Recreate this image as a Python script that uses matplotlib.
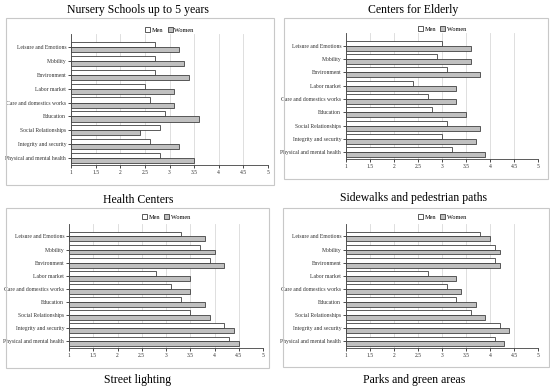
import numpy as np
import matplotlib
matplotlib.use('Agg')
import matplotlib.pyplot as plt
from matplotlib.patches import Rectangle

categories = ["Leisure and Emotions", "Mobility", "Environment", "Labor market",
              "Care and domestics works", "Education", "Social Relationships",
              "Integrity and security", "Physical and mental health"]

nursery_men = [2.7, 2.7, 2.7, 2.5, 2.6, 2.9, 2.8, 2.6, 2.8]
nursery_women = [3.2, 3.3, 3.4, 3.1, 3.1, 3.6, 2.4, 3.2, 3.5]
elderly_men = [3.0, 2.9, 3.1, 2.4, 2.7, 2.8, 3.1, 3.0, 3.2]
elderly_women = [3.6, 3.6, 3.8, 3.3, 3.3, 3.5, 3.8, 3.7, 3.9]
health_men = [3.3, 3.7, 3.9, 2.8, 3.1, 3.3, 3.5, 4.2, 4.3]
health_women = [3.8, 4.0, 4.2, 3.5, 3.5, 3.8, 3.9, 4.4, 4.5]
sidewalk_men = [3.8, 4.1, 4.1, 2.7, 3.1, 3.3, 3.6, 4.2, 4.1]
sidewalk_women = [4.0, 4.2, 4.2, 3.3, 3.4, 3.7, 3.9, 4.4, 4.3]

titles = ["Nursery Schools up to 5 years", "Centers for Elderly",
          "Health Centers", "Sidewalks and pedestrian paths",
          "Street lighting", "Parks and green areas"]

W, H = 550, 391
plt.rcParams['font.family'] = 'Liberation Serif'
fig = plt.figure(figsize=(W / 100, H / 100), dpi=100)


def frac(x0, x1, ytop, ybot):
    return [x0 / W, 1 - ybot / H, (x1 - x0) / W, (ybot - ytop) / H]


# chart area boxes (pixels)
boxes = [(6, 18, 274, 185), (284, 18, 548, 179), (6, 208, 269, 368), (283, 208, 549, 367)]
for x0, y0, x1, y1 in boxes:
    fig.patches.append(Rectangle((x0 / W, 1 - y1 / H), (x1 - x0) / W, (y1 - y0) / H,
                                 transform=fig.transFigure, fill=False,
                                 edgecolor='#c8c8c8', linewidth=0.8))

panels = [
    (nursery_men, nursery_women, frac(71, 268, 34, 165), 30),
    (elderly_men, elderly_women, frac(346, 538, 33, 159), 29),
    (health_men, health_women, frac(69, 263, 224, 348), 217),
    (sidewalk_men, sidewalk_women, frac(346, 538, 224, 348), 217),
]

y = np.arange(len(categories))
h = 0.37
for men, women, rect, leg_y in panels:
    ax = fig.add_axes(rect)
    ax.barh(y - h / 2, np.array(men) - 1, left=1, height=h, color='white',
            edgecolor='#404040', linewidth=0.6, label='Men', zorder=3)
    ax.barh(y + h / 2, np.array(women) - 1, left=1, height=h, color='#c0c0c0',
            edgecolor='#404040', linewidth=0.6, label='Women', zorder=3)
    ax.set_xlim(1, 5)
    ax.set_ylim(8.5, -0.95)
    ax.set_xticks(np.arange(1, 5.01, 0.5))
    ax.set_xticklabels(['1', '1.5', '2', '2.5', '3', '3.5', '4', '4.5', '5'])
    ax.set_yticks(y)
    ax.set_yticklabels(categories)
    ax.tick_params(labelsize=4.1, length=2, width=0.5, pad=1.5, labelcolor='#333333')
    ax.grid(axis='x', color='#d9d9d9', linewidth=0.6, zorder=0)
    for s in ['top', 'right']:
        ax.spines[s].set_visible(False)
    for s in ['left', 'bottom']:
        ax.spines[s].set_linewidth(0.6)
        ax.spines[s].set_color('#404040')
    cx = (rect[0] + rect[2] / 2)
    ax.legend(loc='center', bbox_to_anchor=(cx, 1 - leg_y / H), bbox_transform=fig.transFigure,
              ncol=2, fontsize=4.5, frameon=False, handlelength=0.8, handleheight=0.8,
              handletextpad=0.3, columnspacing=0.6, borderpad=0)

title_pos = [(138, 10), (413, 10), (138, 200), (413, 198), (138, 380), (414, 380)]
for t, (tx, ty) in zip(titles, title_pos):
    fig.text(tx / W, 1 - ty / H, t, ha='center', va='center', fontsize=8.5)

fig.savefig('out.png', dpi=100)
